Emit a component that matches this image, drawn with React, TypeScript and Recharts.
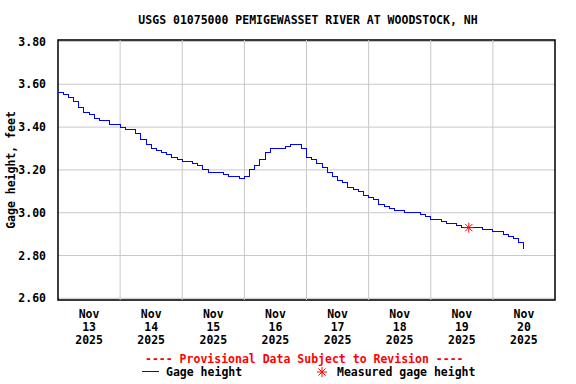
import React from "react";
import {
  ComposedChart, Line, XAxis, YAxis, CartesianGrid, ReferenceLine, ReferenceArea, ReferenceDot
} from "recharts";

// hours since Nov 13 2025 00:00, one reading every 2 hours
const gageHeight = [
  3.56, 3.55, 3.54, 3.52, 3.49, 3.47, 3.46, 3.44, 3.43, 3.43,
  3.41, 3.41, 3.40, 3.39, 3.39, 3.37, 3.34, 3.32, 3.30, 3.29,
  3.28, 3.27, 3.26, 3.25, 3.24, 3.24, 3.23, 3.22, 3.20, 3.19,
  3.19, 3.19, 3.18, 3.17, 3.17, 3.16, 3.17, 3.20, 3.22, 3.25,
  3.28, 3.30, 3.30, 3.30, 3.31, 3.32, 3.32, 3.30, 3.26, 3.25,
  3.23, 3.21, 3.19, 3.17, 3.15, 3.14, 3.12, 3.11, 3.10, 3.08,
  3.07, 3.06, 3.04, 3.03, 3.02, 3.01, 3.01, 3.00, 3.00, 3.00,
  2.99, 2.98, 2.97, 2.97, 2.96, 2.95, 2.95, 2.94, 2.93, 2.93,
  2.93, 2.93, 2.92, 2.92, 2.91, 2.91, 2.90, 2.89, 2.88, 2.86,
  2.83,
];
const measured = [{ h: 158.7, value: 2.93 }];

const dayLabels = ["13", "14", "15", "16", "17", "18", "19", "20"];
const labelHours = [12, 36, 60, 84, 108, 132, 156, 180];
const gridHours = [24, 48, 72, 96, 120, 144, 168];
const yTicks = [2.6, 2.8, 3.0, 3.2, 3.4, 3.6, 3.8];

const X_MIN = 0;
const X_MAX = 192;
const Y_MIN = 2.592;
const Y_MAX = 3.807;

const FONT = "'DejaVu Sans Mono', monospace";

const data = gageHeight.map((v, i) => ({ h: i * 2, value: v }));

const DayTick = (props: any) => {
  const { x, y, payload } = props;
  const idx = labelHours.indexOf(payload.value);
  return (
    <text x={x} y={y} textAnchor="middle" fontFamily={FONT} fontSize={11.5} fontWeight="bold" fill="#000">
      <tspan x={x} y={318}>Nov</tspan>
      <tspan x={x} y={331}>{dayLabels[idx]}</tspan>
      <tspan x={x} y={344}>2025</tspan>
    </text>
  );
};

const Asterisk = (props: any) => {
  const { cx, cy } = props;
  const r = 5;
  const d = 3.6;
  return (
    <g stroke="#ff0000" strokeWidth={1}>
      <line x1={cx - r} y1={cy} x2={cx + r} y2={cy} />
      <line x1={cx} y1={cy - r} x2={cx} y2={cy + r} />
      <line x1={cx - d} y1={cy - d} x2={cx + d} y2={cy + d} />
      <line x1={cx - d} y1={cy + d} x2={cx + d} y2={cy - d} />
    </g>
  );
};

const textStyle: React.CSSProperties = {
  fontFamily: FONT,
  fontSize: 11.5,
  fontWeight: "bold",
  whiteSpace: "pre",
};

export default function App() {
  return (
    <div style={{ position: "absolute", left: 0, top: 0, width: 576, height: 384, background: "#fff" }}>
      <ComposedChart
        width={576}
        height={384}
        data={data}
        margin={{ top: 40, right: 21, bottom: 0, left: 0 }}
      >
        <CartesianGrid vertical={false} stroke="#c8c8c8" />
        {gridHours.map((h) => (
          <ReferenceLine key={h} x={h} stroke="#c8c8c8" />
        ))}
        <XAxis
          dataKey="h"
          type="number"
          domain={[X_MIN, X_MAX]}
          ticks={labelHours}
          tick={<DayTick />}
          tickLine={false}
          axisLine={false}
          height={84}
          interval={0}
        />
        <YAxis
          type="number"
          domain={[Y_MIN, Y_MAX]}
          ticks={yTicks}
          tickFormatter={(v: number) => v.toFixed(2)}
          tick={{ fontFamily: FONT, fontSize: 11.5, fontWeight: "bold", fill: "#000" }}
          tickLine={false}
          axisLine={false}
          width={58}
          tickMargin={6}
          allowDataOverflow
          label={{
            value: "Gage height, feet",
            angle: -90,
            position: "insideLeft",
            dx: 6,
            style: { fontFamily: FONT, fontSize: 11.5, fontWeight: "bold", fill: "#000", textAnchor: "middle" },
          }}
        />
        <Line
          type="stepAfter"
          dataKey="value"
          stroke="#0000ff"
          strokeWidth={1}
          dot={false}
          isAnimationActive={false}
          shapeRendering="crispEdges"
        />
        {measured.map((m, i) => (
          <ReferenceDot key={i} x={m.h} y={m.value} r={5} shape={<Asterisk />} />
        ))}
        <ReferenceArea x1={X_MIN} x2={X_MAX} y1={Y_MIN} y2={Y_MAX} fill="none" stroke="#000" strokeWidth={1.5} ifOverflow="visible" />
      </ComposedChart>

      <div style={{ ...textStyle, position: "absolute", left: 0, width: 616, top: 13, textAlign: "center", color: "#000" }}>
        USGS 01075000 PEMIGEWASSET RIVER AT WOODSTOCK, NH
      </div>
      <div style={{ ...textStyle, position: "absolute", left: 145, top: 352, color: "#ff0000" }}>
        ---- Provisional Data Subject to Revision ----
      </div>
      <svg style={{ position: "absolute", left: 140, top: 366 }} width={22} height={10}>
        <line x1={2} y1={5} x2={19} y2={5} stroke="#0000ff" strokeWidth={1} shapeRendering="crispEdges" />
      </svg>
      <div style={{ ...textStyle, position: "absolute", left: 166, top: 365, color: "#000" }}>Gage height</div>
      <svg style={{ position: "absolute", left: 316, top: 366 }} width={12} height={12}>
        <Asterisk cx={6} cy={6} />
      </svg>
      <div style={{ ...textStyle, position: "absolute", left: 337, top: 365, color: "#000" }}>Measured gage height</div>
    </div>
  );
}
